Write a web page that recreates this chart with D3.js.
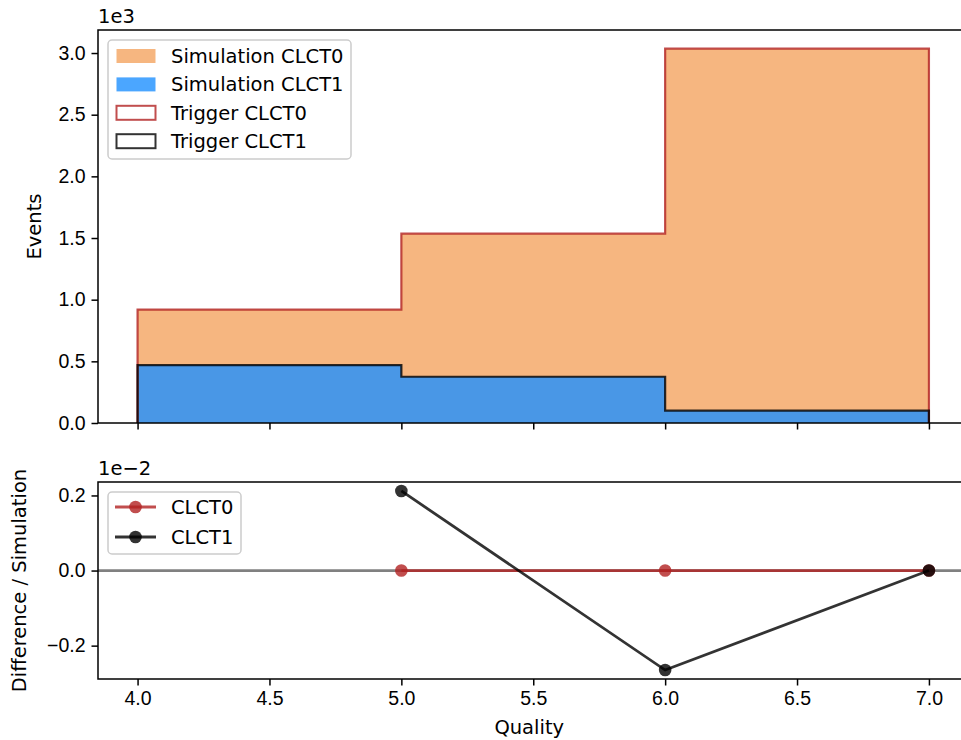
<!DOCTYPE html>
<html>
<head>
<meta charset="utf-8">
<script src="https://cdn.jsdelivr.net/npm/d3@7"></script>
<style>
  body { margin: 0; background: #fff; }
  svg { display: block; font-family: "DejaVu Sans", sans-serif; }
  .axis text { font-size: 19.5px; fill: #000; }
  .axis path, .axis line { stroke: #000; stroke-width: 1.5px; }
</style>
</head>
<body>
<div id="viz-chart"></div>
<script>
// histogram bin edges (Quality) and counts
const binEdges = [4, 5, 6, 7];
const simClct0 = [920, 1535, 3035];
const simClct1 = [470, 375, 100];
const trigClct0 = [920, 1535, 3035];
const trigClct1 = [470, 375, 100];

// ratio panel
const ratioX = [5, 6, 7];
const ratioClct0 = [0, 0, 0];
const ratioClct1 = [0.00212, -0.00265, 0];

const xTicks = [4.0, 4.5, 5.0, 5.5, 6.0, 6.5, 7.0];
const topTicks = [0, 500, 1000, 1500, 2000, 2500, 3000];
const bottomTicks = [-0.002, 0, 0.002];

const W = 961, H = 740;
const FS = 19.5;
const left = 98, right = 968.5;
const top1 = 30, bot1 = 423;
const top2 = 482, bot2 = 679;

const orange = "rgba(244,164,96,0.8)";
const blue = "rgba(30,144,255,0.8)";
const red = "rgba(178,34,34,0.8)";
const dark = "rgba(0,0,0,0.8)";

const svg = d3.select("#viz-chart").append("svg")
  .attr("width", W).attr("height", H);

const x = d3.scaleLinear().domain([3.85, 7.15]).range([left, right]);
const yTop = d3.scaleLinear().domain([0, 3035 * 1.05]).range([bot1, top1]);
const rMin = -0.00265, rMax = 0.00212, pad = (rMax - rMin) * 0.05;
const yBot = d3.scaleLinear().domain([rMin - pad, rMax + pad]).range([bot2, top2]);

const fmt1 = (v) => d3.format(".1f")(v).replace("-", "\u2212");

function stepPoints(vals) {
  const pts = [[binEdges[0], 0]];
  vals.forEach((v, i) => {
    pts.push([binEdges[i], v]);
    pts.push([binEdges[i + 1], v]);
  });
  pts.push([binEdges[binEdges.length - 1], 0]);
  return pts;
}
const histLine = d3.line().x((d) => x(d[0])).y((d) => yTop(d[1]));

// ---------- top panel ----------
const g1 = svg.append("g");
g1.append("path").attr("d", histLine(stepPoints(simClct0)) + "Z").attr("fill", orange);
g1.append("path").attr("d", histLine(stepPoints(simClct1)) + "Z").attr("fill", blue);
g1.append("path").attr("d", histLine(stepPoints(trigClct0)))
  .attr("fill", "none").attr("stroke", red).attr("stroke-width", 2.2);
g1.append("path").attr("d", histLine(stepPoints(trigClct1)))
  .attr("fill", "none").attr("stroke", dark).attr("stroke-width", 2.2);

g1.append("g").attr("class", "axis").attr("transform", `translate(0,${bot1})`)
  .call(d3.axisBottom(x).tickValues(xTicks).tickSize(6.5).tickFormat(""))
  .call((g) => g.select(".domain").remove());
g1.append("g").attr("class", "axis").attr("transform", `translate(${left},0)`)
  .call(d3.axisLeft(yTop).tickValues(topTicks).tickSize(6.5).tickPadding(6)
    .tickFormat((d) => fmt1(d / 1000)))
  .call((g) => g.select(".domain").remove());

// frame
g1.append("rect").attr("x", left).attr("y", top1).attr("width", right - left).attr("height", bot1 - top1)
  .attr("fill", "none").attr("stroke", "#000").attr("stroke-width", 1.5);

g1.append("text").attr("x", left).attr("y", 23).attr("font-size", FS).text("1e3");
g1.append("text").attr("transform", `translate(41,${(top1 + bot1) / 2}) rotate(-90)`)
  .attr("text-anchor", "middle").attr("font-size", FS).text("Events");

// top legend
const leg1 = g1.append("g");
leg1.append("rect").attr("x", 108).attr("y", 40).attr("width", 243).attr("height", 119).attr("rx", 4)
  .attr("fill", "rgba(255,255,255,0.8)").attr("stroke", "#ccc").attr("stroke-width", 1.5);
const legItems = [
  { label: "Simulation CLCT0", fill: orange, stroke: "none" },
  { label: "Simulation CLCT1", fill: blue, stroke: "none" },
  { label: "Trigger CLCT0", fill: "none", stroke: red },
  { label: "Trigger CLCT1", fill: "none", stroke: dark }
];
legItems.forEach((d, i) => {
  const cy = 56 + i * 28.4;
  leg1.append("rect").attr("x", 116.5).attr("y", cy - 7).attr("width", 39).attr("height", 14)
    .attr("fill", d.fill).attr("stroke", d.stroke).attr("stroke-width", 2);
  leg1.append("text").attr("x", 171).attr("y", cy).attr("dy", "0.35em")
    .attr("font-size", FS).text(d.label);
});

// ---------- bottom panel ----------
const g2 = svg.append("g");
g2.append("line").attr("x1", left).attr("x2", right).attr("y1", yBot(0)).attr("y2", yBot(0))
  .attr("stroke", "gray").attr("stroke-width", 2.8);

const rLine = d3.line().x((d) => x(d[0])).y((d) => yBot(d[1]));
[[ratioClct0, red], [ratioClct1, dark]].forEach(([vals, col]) => {
  const pts = ratioX.map((q, i) => [q, vals[i]]);
  g2.append("path").attr("d", rLine(pts)).attr("fill", "none")
    .attr("stroke", col).attr("stroke-width", 2.8);
  g2.selectAll(null).data(pts).enter().append("circle")
    .attr("cx", (d) => x(d[0])).attr("cy", (d) => yBot(d[1])).attr("r", 6.3)
    .attr("fill", col);
});

g2.append("g").attr("class", "axis").attr("transform", `translate(0,${bot2})`)
  .call(d3.axisBottom(x).tickValues(xTicks).tickSize(6.5).tickPadding(6).tickFormat(fmt1))
  .call((g) => g.select(".domain").remove());
g2.append("g").attr("class", "axis").attr("transform", `translate(${left},0)`)
  .call(d3.axisLeft(yBot).tickValues(bottomTicks).tickSize(6.5).tickPadding(6)
    .tickFormat((d) => fmt1(d * 100)))
  .call((g) => g.select(".domain").remove());

g2.append("rect").attr("x", left).attr("y", top2).attr("width", right - left).attr("height", bot2 - top2)
  .attr("fill", "none").attr("stroke", "#000").attr("stroke-width", 1.5);

g2.append("text").attr("x", left).attr("y", 475).attr("font-size", FS).text("1e\u22122");
g2.append("text").attr("transform", `translate(26,${(top2 + bot2) / 2}) rotate(-90)`)
  .attr("text-anchor", "middle").attr("font-size", FS).text("Difference / Simulation");
g2.append("text").attr("x", (left + right) / 2 - 4).attr("y", 734)
  .attr("text-anchor", "middle").attr("font-size", FS).text("Quality");

// bottom legend
const leg2 = g2.append("g");
leg2.append("rect").attr("x", 108).attr("y", 492).attr("width", 133).attr("height", 62).attr("rx", 4)
  .attr("fill", "rgba(255,255,255,0.8)").attr("stroke", "#ccc").attr("stroke-width", 1.5);
[["CLCT0", red], ["CLCT1", dark]].forEach(([label, col], i) => {
  const cy = 507 + i * 30;
  leg2.append("line").attr("x1", 115).attr("x2", 156).attr("y1", cy).attr("y2", cy)
    .attr("stroke", col).attr("stroke-width", 2.8);
  leg2.append("circle").attr("cx", 135.5).attr("cy", cy).attr("r", 6.3).attr("fill", col);
  leg2.append("text").attr("x", 171).attr("y", cy).attr("dy", "0.35em")
    .attr("font-size", FS).text(label);
});
</script>
</body>
</html>
